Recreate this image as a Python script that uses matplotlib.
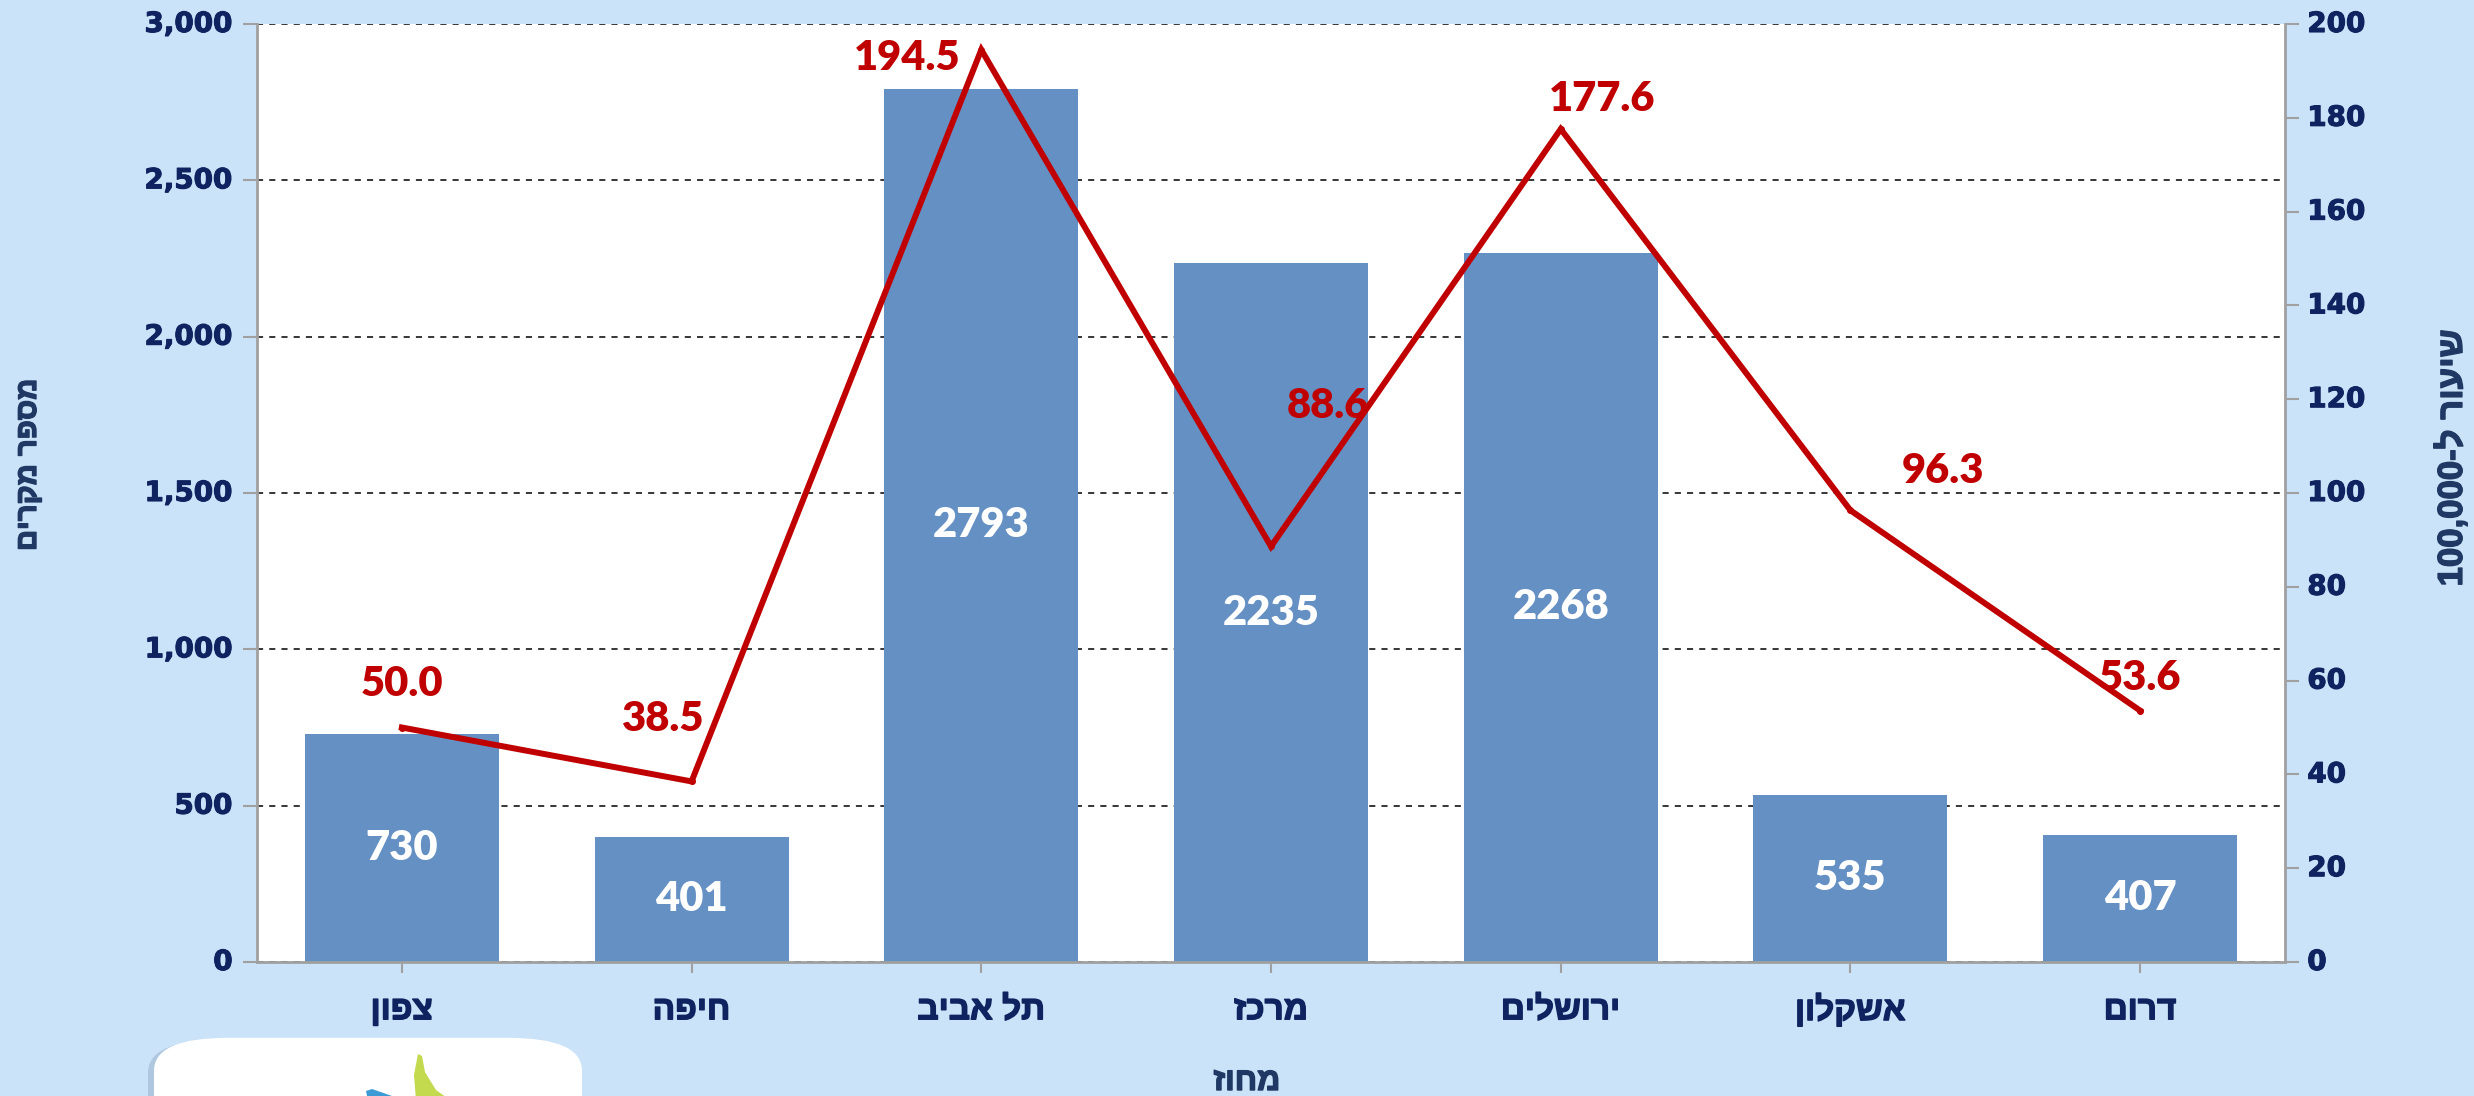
import re
import matplotlib
matplotlib.use("Agg")
import matplotlib.pyplot as plt
import matplotlib.patheffects as pe
from matplotlib.ticker import FuncFormatter, MultipleLocator
from matplotlib.patches import FancyBboxPatch, Polygon

# ---------------- data ----------------
districts = ["צפון", "חיפה", "תל אביב", "מרכז", "ירושלים", "אשקלון", "דרום"]
cases = [730, 401, 2793, 2235, 2268, 535, 407]
rate_per_100k = [50.0, 38.5, 194.5, 88.6, 177.6, 96.3, 53.6]
x_title = "מחוז"
y_left_title = "מספר מקרים"
y_right_title = "שיעור ל-100,000"

# label offsets (pixels) for the rate labels – layout only
rate_label_offsets = [(0, 43), (-28, 62), (-74, -8), (57, 140), (41, 30), (93, 39), (0, 33)]


def heb(s):
    """Convert logical-order Hebrew to visual order (simple bidi)."""
    tokens = re.findall(r"[0-9][0-9,\.]*|[^0-9]+", s)
    out = []
    for t in reversed(tokens):
        out.append(t if t[0].isdigit() else t[::-1])
    return "".join(out)


BG = "#CBE3F8"
BAR = "#6590C4"
RED = "#C00000"
NAVY = "#0E2360"
TITLE = "#1F3864"
GRAY = "#A0A0A0"
HEB = "Liberation Sans"
NUM = "Lato"


def thick(color, w=1.2):
    return [pe.withStroke(linewidth=w, foreground=color)]


fig = plt.figure(figsize=(24.74, 10.96), dpi=100, facecolor=BG)
ax = fig.add_axes([257 / 2474, 1 - 962 / 1096, (2285 - 257) / 2474, (962 - 24) / 1096])
ax.set_facecolor("white")

xs = list(range(len(districts)))
bars = ax.bar(xs, cases, width=0.67, color=BAR, zorder=2)
ax.bar_label(bars, labels=[str(v) for v in cases], label_type="center",
             color="white", family=NUM, fontweight=800, fontsize=30)

ax.set_xlim(-0.5, len(districts) - 0.5)
ax.set_ylim(0, 3000)
ax.yaxis.set_major_locator(MultipleLocator(500))
ax.yaxis.set_major_formatter(FuncFormatter(lambda v, p: f"{int(v):,}"))
ax.grid(axis="y", color="black", linestyle=(0, (4, 4)), linewidth=1.1, zorder=1)
ax.set_xticks(xs)
ax.set_xticklabels([])
ax.tick_params(axis="x", direction="out", length=8, color=GRAY, width=1.5)
ax.tick_params(axis="y", direction="out", length=10, color=GRAY, width=1.5, labelleft=False)

# category labels drawn as texts under each tick
xform = ax.get_xaxis_transform()
for xi, d in zip(xs, districts):
    ax.text(xi, -0.052, heb(d), transform=xform, ha="center", va="center",
            family=HEB, fontweight="bold", fontsize=24, color=NAVY,
            path_effects=thick(NAVY, 1.0))

# left tick labels
yform = ax.get_yaxis_transform()
for v in range(0, 3001, 500):
    ax.text(-0.012, v, f"{v:,}", transform=yform, ha="right", va="center",
            family="DejaVu Sans", fontweight="bold", fontsize=20, color=NAVY,
            path_effects=thick(NAVY, 0.8))

for side in ["left", "bottom"]:
    ax.spines[side].set_color(GRAY)
    ax.spines[side].set_linewidth(2)
for side in ["top", "right"]:
    ax.spines[side].set_visible(False)

# secondary axis
ax2 = ax.twinx()
ax2.set_ylim(0, 200)
ax2.yaxis.set_major_locator(MultipleLocator(20))
ax2.plot(xs, rate_per_100k, color=RED, linewidth=4.3, zorder=5,
         marker="o", markersize=4, solid_joinstyle="miter")
ax2.tick_params(axis="y", direction="out", length=10, color=GRAY, width=1.5, labelright=False)
yform2 = ax2.get_yaxis_transform()
for v in range(0, 201, 20):
    ax2.text(1.011, v, f"{v}", transform=yform2, ha="left", va="center",
             family="DejaVu Sans", fontweight="bold", fontsize=20, color=NAVY,
             path_effects=thick(NAVY, 0.8))
ax2.spines["right"].set_color(GRAY)
ax2.spines["right"].set_linewidth(2)
for side in ["top", "left", "bottom"]:
    ax2.spines[side].set_visible(False)

for xi, v, off in zip(xs, rate_per_100k, rate_label_offsets):
    ax2.annotate(f"{v:.1f}", (xi, v), xytext=off, textcoords="offset pixels",
                 ha="center", va="center", color=RED, family=NUM, fontweight=800,
                 fontsize=30, zorder=6)

# axis titles
fig.text(1247 / 2474, 1 - 1082 / 1096, heb(x_title), ha="center", va="center",
         family=HEB, fontweight="bold", fontsize=23, color=TITLE,
         path_effects=thick(TITLE, 1.0))
fig.text(28 / 2474, 1 - 465 / 1096, heb(y_left_title), ha="center", va="center",
         rotation=90, family=HEB, fontweight="bold", fontsize=21, color=TITLE,
         path_effects=thick(TITLE, 1.0))
fig.text(2452 / 2474, 1 - 458 / 1096, heb(y_right_title), ha="center", va="center",
         rotation=90, family=HEB, fontweight="bold", fontsize=25, color=TITLE,
         path_effects=thick(TITLE, 1.0))

# logo box (decorative, partially visible at the bottom)
W, H = 2474, 1096
shadow = FancyBboxPatch((148 / W, -0.05), 430 / W, (1096 - 1045 + 60) / H,
                        boxstyle="round,pad=0,rounding_size=0.03",
                        transform=fig.transFigure, facecolor="#9DB6CF",
                        edgecolor="none", alpha=0.6, zorder=0)
fig.patches.append(shadow)
box = FancyBboxPatch((154 / W, -0.05), 428 / W, (1096 - 1043 + 60) / H,
                     boxstyle="round,pad=0,rounding_size=0.03",
                     transform=fig.transFigure, facecolor="white",
                     edgecolor="none", zorder=1)
fig.patches.append(box)
green = Polygon([(418 / W, 1 - 1054 / H), (422 / W, 1 - 1056 / H), (425 / W, 1 - 1072 / H),
                 (436 / W, 1 - 1090 / H), (450 / W, 1 - 1100 / H), (416 / W, 1 - 1100 / H),
                 (414 / W, 1 - 1075 / H)],
                closed=True, transform=fig.transFigure, facecolor="#C3D94E",
                edgecolor="none", zorder=2)
fig.patches.append(green)
blue = Polygon([(366 / W, 1 - 1091 / H), (372 / W, 1 - 1089 / H), (392 / W, 1 - 1096 / H),
                (368 / W, 1 - 1100 / H)],
               closed=True, transform=fig.transFigure, facecolor="#3C9AD6",
               edgecolor="none", zorder=2)
fig.patches.append(blue)

fig.savefig("out.png", dpi=100, facecolor=BG)
